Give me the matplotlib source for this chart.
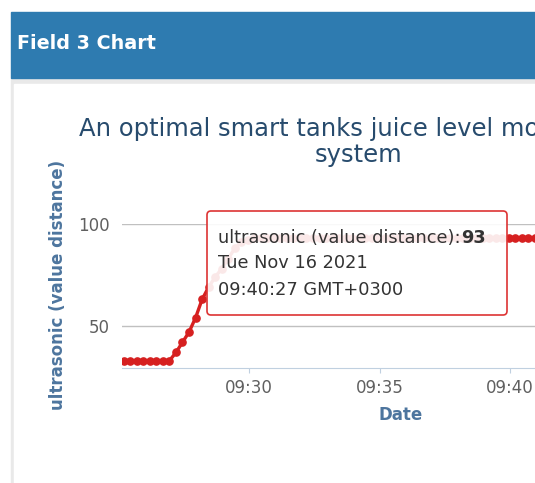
import numpy as np
import pandas as pd
import matplotlib
matplotlib.use("Agg")
import matplotlib.pyplot as plt
import matplotlib.dates as mdates
from matplotlib.patches import Rectangle, FancyBboxPatch

plt.rcParams['font.family'] = ['DejaVu Sans']

# --- Data (ultrasonic distance, one reading every 15 s) ---
valores = [33] * 8 + [37, 42, 47, 54, 63, 69, 74, 78, 83, 88, 91, 92] + [93] * 45
tiempos = pd.date_range("2021-11-16 09:25:12", periods=len(valores), freq="15s")
ticks_x = pd.to_datetime(["2021-11-16 09:30", "2021-11-16 09:35",
                          "2021-11-16 09:40", "2021-11-16 09:45"])
ticks_y = [50, 100]
x_min = pd.Timestamp("2021-11-16 09:25:08")
x_max = pd.Timestamp("2021-11-16 09:46:35")
y_min, y_max = 29.4, 100

titulo = ["An optimal smart tanks juice level monitoring", "system"]
tooltip_lineas = ["ultrasonic (value distance):", "Tue Nov 16 2021", "09:40:27 GMT+0300"]
tooltip_valor = "93"

W, H = 535, 483
fig = plt.figure(figsize=(W / 100, H / 100), dpi=100)

# --- fondo de la pagina (coordenadas en pixeles) ---
bg = fig.add_axes([0, 0, 1, 1], zorder=0)
bg.set_xlim(0, W)
bg.set_ylim(H, 0)
bg.axis('off')
bg.add_patch(Rectangle((0, 0), W, H, color='white'))
bg.add_patch(Rectangle((11, 78), W, H, color='#e9e9e9'))
bg.add_patch(Rectangle((14, 84), W, H, color='white'))
bg.add_patch(Rectangle((11, 12), W, 66, color='#2e7bb0'))
bg.text(17, 49, "Field 3 Chart", color='white', fontsize=13.8, fontweight='bold',
        ha='left', va='baseline')
bg.text(356, 136, titulo[0], color='#274b6d', fontsize=17.5, ha='center', va='baseline')
bg.text(359, 162, titulo[1], color='#274b6d', fontsize=17.5, ha='center', va='baseline')

# --- grafico ---
ax = fig.add_axes([122 / W, (H - 368) / H, 560 / W, 144 / H], zorder=1)
ax.patch.set_alpha(0)
ax.plot(tiempos, valores, color='#d62020', lw=2.4, marker='o', ms=5.2, zorder=3)
ax.set_xlim(x_min, x_max)
ax.set_ylim(y_min, y_max)
ax.set_xticks(ticks_x)
ax.xaxis.set_major_formatter(mdates.DateFormatter('%H:%M'))
ax.set_yticks(ticks_y)
ax.grid(axis='y', color='#c0c0c0', lw=1)
ax.set_axisbelow(True)
for s in ['top', 'right', 'left']:
    ax.spines[s].set_visible(False)
ax.spines['bottom'].set_color('#c0d0e0')
ax.tick_params(axis='x', colors='#c0d0e0', labelcolor='#606060', length=3.6,
               labelsize=12, pad=4)
ax.tick_params(axis='y', length=0, labelcolor='#606060', labelsize=12, pad=9)
ax.set_xlabel("Date", color='#4d759e', fontsize=12, fontweight='bold')
ax.xaxis.set_label_coords(0.498, -0.326)
ax.xaxis.label.set_va('center')
ax.set_ylabel("ultrasonic (value distance)", color='#4d759e', fontsize=12,
              fontweight='bold')
ax.yaxis.set_label_coords(-0.114, 0.576)
ax.yaxis.label.set_va('center')

# --- tooltip ---
top = fig.add_axes([0, 0, 1, 1], zorder=2)
top.set_xlim(0, W)
top.set_ylim(H, 0)
top.axis('off')
top.add_patch(FancyBboxPatch((207, 211), 300, 104, boxstyle="round,pad=0,rounding_size=4",
                             facecolor=(1, 1, 1, 0.9), edgecolor='#dd3333', lw=1.2))
t1 = top.text(218, 243, tooltip_lineas[0], color='#333333', fontsize=12.8,
              ha='left', va='baseline')
top.text(218, 268, tooltip_lineas[1], color='#333333', fontsize=12.8, ha='left', va='baseline')
top.text(218, 295, tooltip_lineas[2], color='#333333', fontsize=12.8, ha='left', va='baseline')
r = fig.canvas.get_renderer()
bb = t1.get_window_extent(r)
x_fin = top.transData.inverted().transform((bb.x1, bb.y0))[0]
top.text(x_fin, 243, tooltip_valor, color='#333333', fontsize=12.8, fontweight='bold',
         ha='left', va='baseline')

fig.savefig("out.png", dpi=100)
